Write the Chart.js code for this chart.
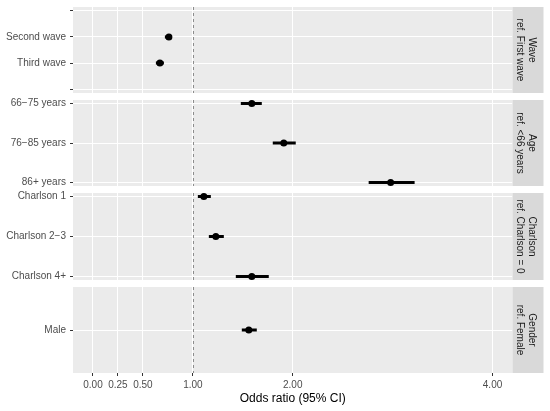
<!DOCTYPE html>
<html><head><meta charset="utf-8">
<script src="https://cdn.jsdelivr.net/npm/chart.js@4"></script>
<style>
html,body{margin:0;padding:0;background:#fff;width:550px;height:411px;overflow:hidden;position:relative}
canvas{position:absolute;left:0}
</style></head><body>
<script>
// ---------- data ----------
const waveLabels = ["", "Second wave", "Third wave", ""];
const waveOR   = [null, 0.76, 0.67, null];
const waveLow  = [null, 0.72, 0.63, null];
const waveHigh = [null, 0.79, 0.71, null];

const ageLabels = ["66−75 years", "76−85 years", "86+ years"];
const ageOR   = [1.59, 1.91, 2.98];
const ageLow  = [1.48, 1.80, 2.76];
const ageHigh = [1.69, 2.03, 3.22];

const charlsonLabels = ["Charlson 1", "Charlson 2−3", "Charlson 4+"];
const charlsonOR   = [1.11, 1.23, 1.59];
const charlsonLow  = [1.05, 1.16, 1.43];
const charlsonHigh = [1.18, 1.31, 1.76];

const genderLabels = ["Male"];
const genderOR   = [1.56];
const genderLow  = [1.49];
const genderHigh = [1.64];

const stripLabels = [
  ["Wave", "ref. First wave"],
  ["Age", "ref. <66 years"],
  ["Charlson", "ref. Charlson = 0"],
  ["Gender", "ref. Female"]
];
const xTickValues = [0, 0.25, 0.5, 1, 2, 4];
const xTickLabels = ["0.00", "0.25", "0.50", "1.00", "2.00", "4.00"];
const xMin = -0.2, xMax = 4.2;
const refValue = 1;
const xTitle = "Odds ratio (95% CI)";

// ---------- layout (positions / styles) ----------
const FAMILY = "'Liberation Sans', Arial, sans-serif";
const panelTops = [7, 100, 193, 287];
const panelHeights = [86, 86, 87, 86];
const yPads = [0.14, 0.09, 0.09, 1];
const LEFT = 73, RIGHT = 512.5, STRIP_W = 31, EXTRA = 12, XAXIS_H = 38, W = 550;

const panels = [
  {labels: waveLabels, or: waveOR, lo: waveLow, hi: waveHigh, strip: stripLabels[0]},
  {labels: ageLabels, or: ageOR, lo: ageLow, hi: ageHigh, strip: stripLabels[1]},
  {labels: charlsonLabels, or: charlsonOR, lo: charlsonLow, hi: charlsonHigh, strip: stripLabels[2]},
  {labels: genderLabels, or: genderOR, lo: genderLow, hi: genderHigh, strip: stripLabels[3]}
];

const bgPlugin = {
  id: 'panelBg',
  beforeDraw(chart) {
    const {ctx, chartArea: a} = chart;
    ctx.save();
    ctx.fillStyle = '#EBEBEB';
    ctx.fillRect(a.left, a.top, a.right - a.left, a.bottom - a.top);
    ctx.restore();
  }
};
const refPlugin = {
  id: 'refLine',
  beforeDatasetsDraw(chart) {
    const {ctx, chartArea: a, scales} = chart;
    const x = Math.round(scales.x.getPixelForValue(refValue)) + 0.5;
    ctx.save();
    ctx.strokeStyle = '#8C8C8C';
    ctx.lineWidth = 1;
    ctx.setLineDash([3, 3]);
    ctx.beginPath();
    ctx.moveTo(x, a.top);
    ctx.lineTo(x, a.bottom);
    ctx.stroke();
    ctx.restore();
  }
};
const stripPlugin = {
  id: 'strip',
  afterDraw(chart) {
    const {ctx, chartArea: a} = chart;
    const lines = chart.options.plugins.strip.lines;
    ctx.save();
    ctx.fillStyle = '#D9D9D9';
    ctx.fillRect(a.right, a.top, STRIP_W, a.bottom - a.top);
    const cx = a.right + STRIP_W / 2 - 2.5, cy = (a.top + a.bottom) / 2;
    ctx.translate(cx, cy);
    ctx.rotate(Math.PI / 2);
    ctx.fillStyle = '#1A1A1A';
    ctx.font = '10px ' + FAMILY;
    ctx.textAlign = 'center';
    ctx.textBaseline = 'middle';
    const lh = 11.5;
    lines.forEach((t, i) => {
      ctx.fillText(t, 0, (i - (lines.length - 1) / 2) * lh);
    });
    ctx.restore();
  }
};

panels.forEach((p, i) => {
  const last = i === panels.length - 1;
  const c = document.createElement('canvas');
  const h = EXTRA + panelHeights[i] + (last ? XAXIS_H : EXTRA);
  c.width = W; c.height = h;
  c.style.top = (panelTops[i] - EXTRA) + 'px';
  c.style.width = W + 'px'; c.style.height = h + 'px';
  document.body.appendChild(c);

  const datasets = [];
  p.or.forEach((v, j) => {
    if (v == null) return;
    datasets.push({
      type: 'line',
      data: [{x: p.lo[j], y: j}, {x: p.hi[j], y: j}],
      borderColor: '#000', borderWidth: 3, pointRadius: 0,
      borderCapStyle: 'butt', fill: false
    });
  });
  datasets.push({
    type: 'scatter',
    data: p.or.map((v, j) => v == null ? null : {x: v, y: j}).filter(d => d),
    pointRadius: 3.5, pointHoverRadius: 3.5,
    backgroundColor: '#000', borderColor: '#000', borderWidth: 0
  });

  const n = p.labels.length;
  const pad = yPads[i];
  new Chart(c, {
    type: 'scatter',
    data: {datasets},
    options: {
      responsive: false, animation: false, devicePixelRatio: 1,
      layout: {padding: {left: 0, right: W - RIGHT, top: EXTRA, bottom: last ? 0 : EXTRA}},
      plugins: {legend: {display: false}, tooltip: {enabled: false}, strip: {lines: p.strip}},
      scales: {
        x: {
          type: 'linear', min: xMin, max: xMax,
          afterBuildTicks: s => { s.ticks = xTickValues.map(v => ({value: v})); },
          afterFit: s => { s.height = last ? XAXIS_H : 0; },
          ticks: {
            display: last, autoSkip: false, maxRotation: 0, color: '#4D4D4D',
            font: {size: 10, family: FAMILY}, padding: 3,
            callback: v => xTickLabels[xTickValues.indexOf(v)]
          },
          grid: {color: '#FFFFFF', lineWidth: 1, drawTicks: last, tickLength: 3, tickColor: '#333333'},
          border: {display: false},
          title: {display: last, text: xTitle, color: '#000', font: {size: 12, family: FAMILY}, padding: {top: 0, bottom: 5}}
        },
        y: {
          type: 'linear', reverse: true, min: -pad, max: n - 1 + pad,
          afterBuildTicks: s => { s.ticks = p.labels.map((_, j) => ({value: j})); },
          afterFit: s => { s.width = LEFT; },
          ticks: {
            autoSkip: false, color: '#4D4D4D', font: {size: 10, family: FAMILY}, padding: 4,
            callback: v => p.labels[v] ?? ''
          },
          grid: {color: '#FFFFFF', lineWidth: 1, tickLength: 3, tickColor: '#333333'},
          border: {display: false}
        }
      }
    },
    plugins: [bgPlugin, refPlugin, stripPlugin]
  });
});
</script>
</body></html>
